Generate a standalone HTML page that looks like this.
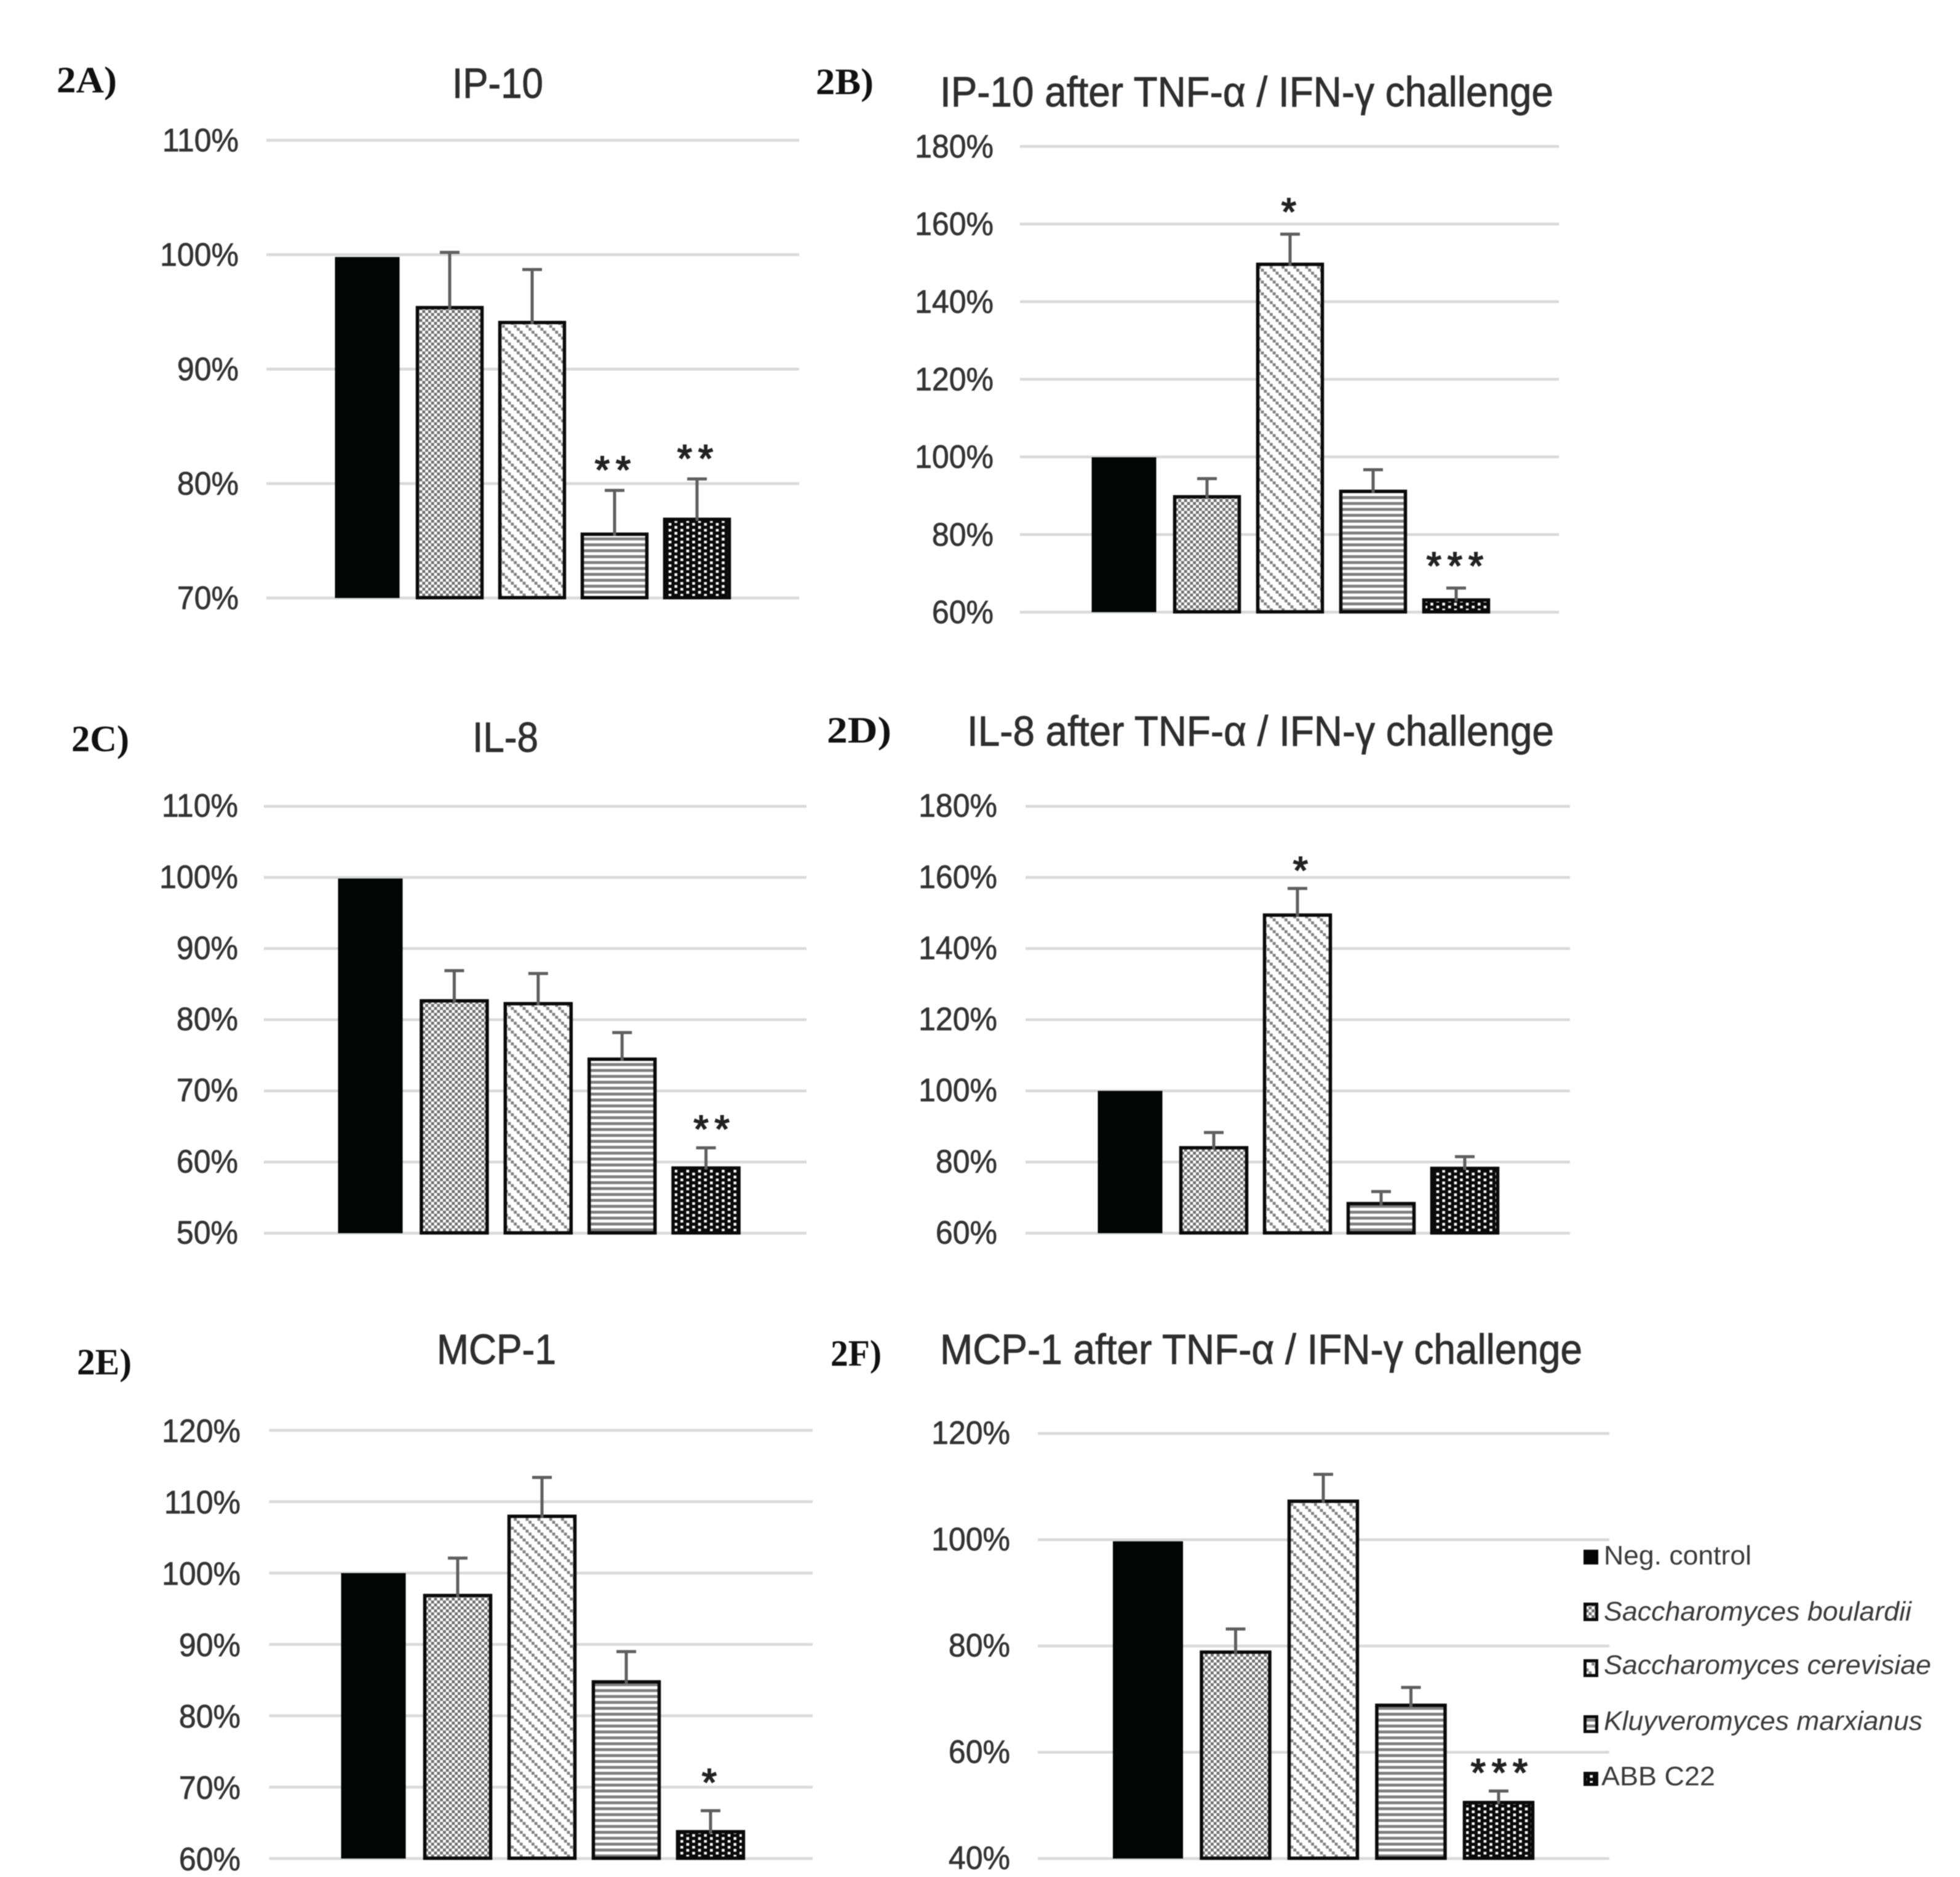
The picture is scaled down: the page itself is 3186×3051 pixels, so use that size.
<!DOCTYPE html>
<html lang="en">
<head>
<meta charset="utf-8">
<title>Cytokine secretion charts</title>
<style>
html,body{margin:0;padding:0;background:#fff;}
svg{display:block;filter:blur(0.7px);}
text{font-family:"Liberation Sans",sans-serif;}
.plabel{font-family:"Liberation Serif",serif;font-weight:bold;font-size:60px;fill:#111;}
.title{font-size:60px;fill:#2e2e2e;stroke:#2e2e2e;stroke-width:0.8px;}
.legend{font-size:44px;fill:#3a3a3a;}
</style>
</head>
<body>
<svg id="fig" xmlns="http://www.w3.org/2000/svg" width="3186" height="3051" viewBox="0 0 3186 3051">
<defs>
<pattern id="p-check" patternUnits="userSpaceOnUse" width="9.6" height="9.6">
<rect width="9.6" height="9.6" fill="#fff"/><rect width="4.8" height="4.8" fill="#707070"/><rect x="4.8" y="4.8" width="4.8" height="4.8" fill="#707070"/>
</pattern>
<pattern id="p-diag" patternUnits="userSpaceOnUse" width="19.2" height="19.2">
<rect width="19.2" height="19.2" fill="#fff"/>
<rect x="0" y="0" width="4.8" height="4.8" fill="#808080"/><rect x="4.8" y="4.8" width="4.8" height="4.8" fill="#808080"/><rect x="9.6" y="9.6" width="4.8" height="4.8" fill="#808080"/><rect x="14.4" y="14.4" width="4.8" height="4.8" fill="#808080"/>
</pattern>
<pattern id="p-hstripe" patternUnits="userSpaceOnUse" width="9.6" height="9.6">
<rect width="9.6" height="9.6" fill="#fff"/><rect width="9.6" height="4.8" fill="#808080"/>
</pattern>
<pattern id="p-dots" patternUnits="userSpaceOnUse" width="19.2" height="9.6">
<rect width="19.2" height="9.6" fill="#0a0a0a"/><rect x="2" y="0.5" width="4.6" height="4.6" fill="#fff"/><rect x="11.6" y="5.3" width="4.6" height="4.3" fill="#fff"/>
</pattern>
</defs>

<g id="grids"></g>
<g id="marks"></g>

<text class="plabel" x="92" y="150" textLength="98" lengthAdjust="spacingAndGlyphs">2A)</text>
<text class="plabel" x="1326" y="153" textLength="94" lengthAdjust="spacingAndGlyphs">2B)</text>
<text class="plabel" x="116" y="1221" textLength="94" lengthAdjust="spacingAndGlyphs">2C)</text>
<text class="plabel" x="1344" y="1207" textLength="105" lengthAdjust="spacingAndGlyphs">2D)</text>
<text class="plabel" x="125" y="2234" textLength="89" lengthAdjust="spacingAndGlyphs">2E)</text>
<text class="plabel" x="1350" y="2220" textLength="83" lengthAdjust="spacingAndGlyphs">2F)</text>

<text class="title" transform="translate(735,159) scale(1,1.15)" textLength="148" lengthAdjust="spacingAndGlyphs">IP-10</text>
<text class="title" transform="translate(1528,173) scale(1,1.15)" textLength="997" lengthAdjust="spacingAndGlyphs">IP-10 after TNF-α / IFN-γ challenge</text>
<text class="title" transform="translate(768,1222) scale(1,1.15)" textLength="107" lengthAdjust="spacingAndGlyphs">IL-8</text>
<text class="title" transform="translate(1572,1212) scale(1,1.15)" textLength="954" lengthAdjust="spacingAndGlyphs">IL-8 after TNF-α / IFN-γ challenge</text>
<text class="title" transform="translate(710,2217) scale(1,1.15)" textLength="194" lengthAdjust="spacingAndGlyphs">MCP-1</text>
<text class="title" transform="translate(1528,2217) scale(1,1.15)" textLength="1044" lengthAdjust="spacingAndGlyphs">MCP-1 after TNF-α / IFN-γ challenge</text>

<g>
<rect x="2574" y="2519" width="24" height="24" fill="#050505"/>
<text class="legend" x="2607" y="2543" textLength="240" lengthAdjust="spacingAndGlyphs">Neg. control</text>
<rect x="2576.5" y="2607.5" width="19" height="25" fill="url(#p-check)" stroke="#0a0a0a" stroke-width="5"/>
<text class="legend" font-style="italic" x="2607" y="2634" textLength="500" lengthAdjust="spacingAndGlyphs">Saccharomyces boulardii</text>
<rect x="2576.5" y="2699.5" width="19" height="24" fill="url(#p-diag)" stroke="#0a0a0a" stroke-width="5"/>
<text class="legend" font-style="italic" x="2607" y="2721" textLength="532" lengthAdjust="spacingAndGlyphs">Saccharomyces cerevisiae</text>
<rect x="2576.5" y="2790.5" width="19" height="24" fill="url(#p-hstripe)" stroke="#0a0a0a" stroke-width="5"/>
<text class="legend" font-style="italic" x="2607" y="2812" textLength="518" lengthAdjust="spacingAndGlyphs">Kluyveromyces marxianus</text>
<rect x="2576.5" y="2882.5" width="19" height="18" fill="url(#p-dots)" stroke="#0a0a0a" stroke-width="5"/>
<text class="legend" x="2603" y="2902" textLength="185" lengthAdjust="spacingAndGlyphs">ABB C22</text>
</g>
</svg>

<script>
// Categories shared by all charts
var categories = ['neg-control', 's-boulardii', 's-cerevisiae', 'k-marxianus', 'abb-c22'];

// Panel 2A: IP-10
var ticksA = [70, 80, 90, 100, 110];
var valuesA = [99.8, 95.4, 94.1, 75.6, 76.9];
var errorsA = [null, 100.2, 98.7, 79.4, 80.4];
var sigA = ['', '', '', '**', '**'];

// Panel 2B: IP-10 after challenge
var ticksB = [60, 80, 100, 120, 140, 160, 180];
var valuesB = [99.9, 89.8, 149.7, 91.2, 63.2];
var errorsB = [null, 94.4, 157.4, 96.7, 66.2];
var sigB = ['', '', '*', '', '***'];

// Panel 2C: IL-8
var ticksC = [50, 60, 70, 80, 90, 100, 110];
var valuesC = [99.85, 82.7, 82.3, 74.5, 59.2];
var errorsC = [null, 86.9, 86.5, 78.2, 62.0];
var sigC = ['', '', '', '', '**'];

// Panel 2D: IL-8 after challenge
var ticksD = [60, 80, 100, 120, 140, 160, 180];
var valuesD = [100, 84.1, 149.5, 68.4, 78.3];
var errorsD = [null, 88.3, 156.9, 71.7, 81.5];
var sigD = ['', '', '*', '', ''];

// Panel 2E: MCP-1
var ticksE = [60, 70, 80, 90, 100, 110, 120];
var valuesE = [100, 96.9, 108.0, 84.8, 63.8];
var errorsE = [null, 102.1, 113.4, 89.0, 66.7];
var sigE = ['', '', '', '', '*'];

// Panel 2F: MCP-1 after challenge
var ticksF = [40, 60, 80, 100, 120];
var valuesF = [99.7, 78.9, 107.3, 68.9, 50.6];
var errorsF = [null, 83.2, 112.3, 72.2, 52.7];
var sigF = ['', '', '', '', '***'];

var NS = 'http://www.w3.org/2000/svg';
var fills = ['#030505', 'url(#p-check)', 'url(#p-diag)', 'url(#p-hstripe)', 'url(#p-dots)'];
var gridLayer = document.getElementById('grids');
var markLayer = document.getElementById('marks');

function make(tag, parent) {
  var el = document.createElementNS(NS, tag);
  parent.appendChild(el);
  return el;
}

function drawPanel(id, frame, ticks, values, errors, sig) {
  var yMin = ticks[0];
  var yMax = ticks[ticks.length - 1];
  function yScale(v) {
    return frame.bottom - (v - yMin) / (yMax - yMin) * (frame.bottom - frame.top);
  }
  function xScale(i) {
    return frame.firstBar + i * frame.step;
  }

  ticks.forEach(function (t) {
    var line = make('line', gridLayer);
    
    
    line.setAttribute('x1', frame.left);
    line.setAttribute('x2', frame.right);
    line.setAttribute('y1', yScale(t));
    line.setAttribute('y2', yScale(t));
    line.setAttribute('stroke', '#d9d9d9');
    line.setAttribute('stroke-width', 4.5);

    var label = make('text', gridLayer);
    
    
    label.setAttribute('transform', 'translate(' + frame.tickRight + ',' + (yScale(t) + frame.tickDy) + ') scale(1,1.06)');
    label.setAttribute('text-anchor', 'end');
    label.setAttribute('font-size', 50);
    label.setAttribute('fill', '#333');
    label.setAttribute('stroke', '#333');
    label.setAttribute('stroke-width', 0.7);
    label.textContent = t + '%';
  });

  categories.forEach(function (cat, i) {
    var cx = xScale(i);
    var top = yScale(values[i]);
    var w = frame.barWidth;
    var bar = make('rect', markLayer);
    
    
    if (i === 0) {
      bar.setAttribute('x', cx - frame.blackWidth / 2);
      bar.setAttribute('y', top);
      bar.setAttribute('width', frame.blackWidth);
      bar.setAttribute('height', frame.bottom - top);
      bar.setAttribute('fill', fills[i]);
    } else {
      bar.setAttribute('x', cx - w / 2 + 2.5);
      bar.setAttribute('y', top + 0.5);
      bar.setAttribute('width', w - 5);
      bar.setAttribute('height', frame.bottom - top - 1);
      bar.setAttribute('fill', fills[i]);
      bar.setAttribute('stroke', '#0a0a0a');
      bar.setAttribute('stroke-width', 5.5);
    }

    if (errors[i] !== null) {
      var errTop = yScale(errors[i]);
      var stem = make('line', markLayer);
      
      
      stem.setAttribute('x1', cx);
      stem.setAttribute('x2', cx);
      stem.setAttribute('y1', errTop);
      stem.setAttribute('y2', top + 3);
      stem.setAttribute('stroke', '#5f5f5f');
      stem.setAttribute('stroke-width', 5);

      var cap = make('line', markLayer);
      
      
      cap.setAttribute('x1', cx - 16);
      cap.setAttribute('x2', cx + 16);
      cap.setAttribute('y1', errTop);
      cap.setAttribute('y2', errTop);
      cap.setAttribute('stroke', '#5f5f5f');
      cap.setAttribute('stroke-width', 5);

      if (sig[i]) {
        var star = make('text', markLayer);
        
        
        star.setAttribute('x', cx + frame.starDx);
        star.setAttribute('y', errTop - frame.starGap + 28);
        star.setAttribute('text-anchor', 'middle');
        star.setAttribute('font-size', 62);
        star.setAttribute('letter-spacing', 10);
        star.setAttribute('fill', '#222');
        star.setAttribute('stroke', '#222');
        star.setAttribute('stroke-width', 2);
        star.textContent = sig[i];
      }
    }
  });
}

drawPanel('2a', {left: 433, right: 1299, top: 228, bottom: 972, firstBar: 597, step: 134, barWidth: 110, blackWidth: 105, tickRight: 388, tickDy: 18, starDx: 2, starGap: 40}, ticksA, valuesA, errorsA, sigA);
drawPanel('2b', {left: 1658, right: 2534, top: 238, bottom: 995, firstBar: 1827, step: 135, barWidth: 110, blackWidth: 105, tickRight: 1615, tickDy: 18, starDx: 3, starGap: 43}, ticksB, valuesB, errorsB, sigB);
drawPanel('2c', {left: 429, right: 1311, top: 1310.6, bottom: 2004.5, firstBar: 602, step: 136.4, barWidth: 112, blackWidth: 105, tickRight: 387, tickDy: 17, starDx: 14, starGap: 37}, ticksC, valuesC, errorsC, sigC);
drawPanel('2d', {left: 1667, right: 2552, top: 1310.6, bottom: 2004.5, firstBar: 1837, step: 136, barWidth: 112, blackWidth: 105, tickRight: 1621, tickDy: 17, starDx: 10, starGap: 36}, ticksD, valuesD, errorsD, sigD);
drawPanel('2e', {left: 437.5, right: 1321, top: 2325, bottom: 3021, firstBar: 607, step: 137, barWidth: 112, blackWidth: 105, tickRight: 391, tickDy: 19, starDx: 3, starGap: 53}, ticksE, valuesE, errorsE, sigE);
drawPanel('2f', {left: 1687, right: 2616, top: 2330, bottom: 3021, firstBar: 1866, step: 142.5, barWidth: 116, blackWidth: 114, tickRight: 1642, tickDy: 17, starDx: 6, starGap: 37}, ticksF, valuesF, errorsF, sigF);
</script>
</body>
</html>
